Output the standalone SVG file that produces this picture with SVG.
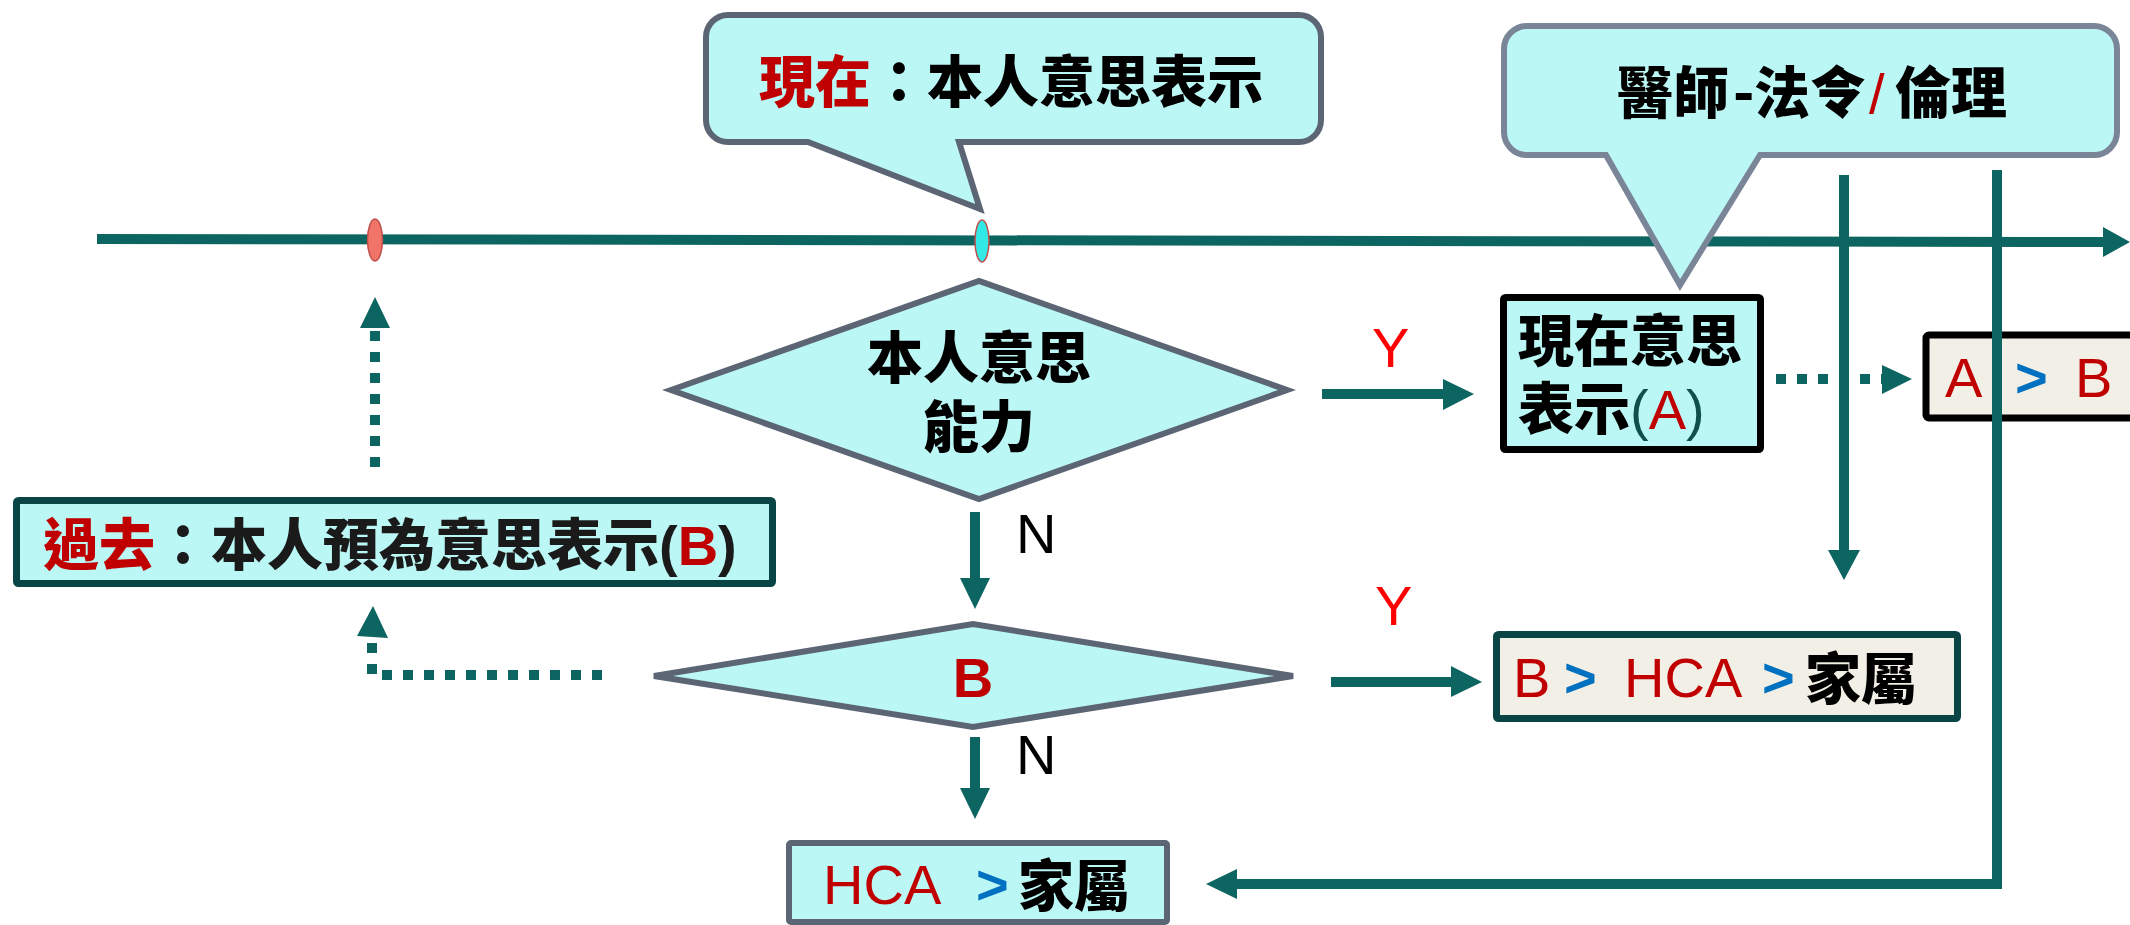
<svg xmlns="http://www.w3.org/2000/svg" width="2130" height="925" viewBox="0 0 2130 925">
<defs>
<style>
.cj{font-family:"Noto Sans CJK TC","Noto Sans CJK SC",sans-serif;font-weight:900;font-size:56px;fill:#000}
.lt{font-family:"Liberation Sans",Arial,sans-serif;font-size:56px;font-weight:400}
.ltb{font-family:"Liberation Sans",Arial,sans-serif;font-size:56px;font-weight:700}
.red{fill:#c00000}
.blue{fill:#0070c0}
.yr{fill:#ff0000}
.blk{fill:#000}
.ln{stroke:#0c6561;stroke-width:10;fill:none}
.dot{stroke:#0c6561;stroke-width:10;fill:none;stroke-dasharray:10 11}
.hd{fill:#0c6561}
.callout{fill:#bbf7f5;stroke-width:6;stroke-linejoin:miter}
.dia{fill:#bbf7f5;stroke:#5b6573;stroke-width:6}
.cyanbox{fill:#bbf7f5}
.beigebox{fill:#f2efe6}
</style>
</defs>
<rect width="2130" height="925" fill="#fff"/>

<g id="timeline">
  <path class="ln" d="M97,239 L2104,242"/>
  <polygon class="hd" points="2103,227 2130,242 2103,257"/>
</g>

<g id="callout-now">
  <path class="callout" stroke="#5b6573" d="M728,15 H1299 A22,22 0 0 1 1321,37 V120 A22,22 0 0 1 1299,142 H959 L980,209 L808,142 H728 A22,22 0 0 1 706,120 V37 A22,22 0 0 1 728,15 Z"/>
  <text class="cj" x="759" y="102"><tspan class="red">現在</tspan>：本人意思表示</text>
</g>

<g id="callout-doctor">
  <path class="callout" stroke="#7a8597" d="M1527,26 H2094 A23,23 0 0 1 2117,49 V132 A23,23 0 0 1 2094,155 H1760 L1680,285 L1606,155 H1527 A23,23 0 0 1 1504,132 V49 A23,23 0 0 1 1527,26 Z"/>
  <text class="cj" y="113"><tspan x="1617">醫師</tspan><tspan x="1733">-</tspan><tspan x="1754">法令</tspan><tspan class="lt red" x="1869">/</tspan><tspan x="1895">倫理</tspan></text>
</g>

<g id="marker-past">
  <ellipse cx="375" cy="240" rx="7.5" ry="21" fill="#f07468" stroke="#c0504d" stroke-width="1.5"/>
</g>
<g id="marker-now">
  <ellipse cx="982" cy="241" rx="7" ry="21" fill="#33e9e6" stroke="#c0504d" stroke-width="1.5"/>
</g>

<g id="past-box">
  <rect class="cyanbox" x="16.5" y="500.5" width="756" height="83" rx="2" stroke="#0a4545" stroke-width="7"/>
  <text class="cj" x="43" y="565" fill="#1a1a1a"><tspan class="red">過去</tspan><tspan fill="#1a1a1a">：本人預為意思表示</tspan><tspan class="ltb" fill="#1a1a1a">(</tspan><tspan class="ltb red">B</tspan><tspan class="ltb" fill="#1a1a1a">)</tspan></text>
</g>

<g id="decision-capacity">
  <polygon class="dia" points="671,390 979,281 1287,390 979,499"/>
  <text class="cj" text-anchor="middle" fill="#1a1a1a"><tspan x="979" y="378">本人意思</tspan><tspan x="979" y="447">能力</tspan></text>
</g>

<g id="decision-b">
  <polygon class="dia" points="654,676 973,624 1293,676 973,727"/>
  <text class="ltb red" x="973" y="697" text-anchor="middle">B</text>
</g>

<g id="box-now-a">
  <rect class="cyanbox" x="1503.5" y="297.5" width="257" height="152" rx="2" stroke="#000" stroke-width="7"/>
  <text class="cj"><tspan x="1518" y="361">現在意思</tspan><tspan x="1518" y="429">表示</tspan><tspan class="lt" fill="#0f4f4c">(</tspan><tspan class="lt red">A</tspan><tspan class="lt" fill="#0f4f4c">)</tspan></text>
</g>

<g id="box-a-b">
  <rect class="beigebox" x="1926" y="335" width="220" height="83" rx="3" stroke="#000" stroke-width="7"/>
  <text class="lt" y="397"><tspan class="red" x="1945">A</tspan><tspan class="ltb blue" x="2015">&gt;</tspan><tspan class="red" x="2075">B</tspan></text>
</g>

<g id="box-b-hca">
  <rect class="beigebox" x="1496.5" y="634.5" width="461" height="84" rx="2" stroke="#0a4545" stroke-width="7"/>
  <text class="lt" y="697"><tspan class="red" x="1513">B</tspan><tspan class="ltb blue" x="1564">&gt;</tspan><tspan class="red" x="1624">HCA</tspan><tspan class="ltb blue" x="1762">&gt;</tspan><tspan class="cj" x="1805" y="699">家屬</tspan></text>
</g>

<g id="box-hca">
  <rect class="cyanbox" x="789" y="843" width="378" height="79" rx="2" stroke="#5b6573" stroke-width="6"/>
  <text class="lt" y="904"><tspan class="red" x="823">HCA</tspan><tspan class="ltb blue" x="976">&gt;</tspan><tspan class="cj" x="1018" y="906">家屬</tspan></text>
</g>

<g id="connectors">
  <path class="ln" d="M1322,394 H1444"/>
  <polygon class="hd" points="1443,379 1474,394 1443,410"/>
  <text class="lt yr" x="1372" y="367">Y</text>

  <path class="ln" d="M1331,682 H1452"/>
  <polygon class="hd" points="1451,666 1482,682 1451,697"/>
  <text class="lt yr" x="1375" y="625">Y</text>

  <path class="ln" d="M975,512 V579"/>
  <polygon class="hd" points="960,578 990,578 975,609"/>
  <text class="lt blk" x="1016" y="553">N</text>

  <path class="ln" d="M975,737 V789"/>
  <polygon class="hd" points="960,788 990,788 975,819"/>
  <text class="lt blk" x="1016" y="774">N</text>

  <path class="ln" d="M1844,175 V551"/>
  <polygon class="hd" points="1828,550 1860,550 1844,580"/>

  <path class="ln" d="M1997,170 V884 H1236"/>
  <polygon class="hd" points="1237,869 1206,884 1237,899"/>

  <path class="dot" d="M1776,379 H1882"/>
  <polygon class="hd" points="1882,365 1912,379 1882,394"/>

  <path class="dot" d="M375,467 V329"/>
  <polygon class="hd" points="360,328 375,297 390,328"/>

  <path class="dot" d="M602,675 H372 V640"/>
  <polygon class="hd" points="357,636 373,606 388,638"/>
</g>
</svg>
